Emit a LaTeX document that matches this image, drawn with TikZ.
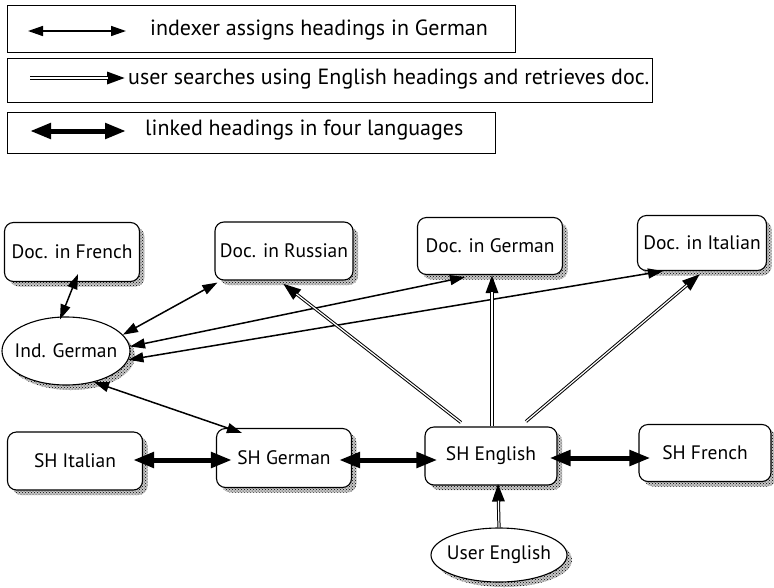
\documentclass[tikz,border=0pt]{standalone}
\usepackage{fontspec}
\setmainfont{PT Sans}
\usetikzlibrary{arrows.meta,patterns,shapes.geometric}

\begin{document}
\begin{tikzpicture}[x=1pt,y=-1pt,
  dotshadow/.style={
    preaction={draw=none,fill=black!22,transform canvas={shift={(5pt,-5pt)}}},
    preaction={draw=none,pattern=crosshatch dots,pattern color=black,
      transform canvas={shift={(5pt,-5pt)}}}},
  docbox/.style={draw,line width=1.1pt,rounded corners=9pt,fill=white,dotshadow,inner sep=0pt,font=\fontsize{19.5}{22}\selectfont},
  ovalbox/.style={draw,ellipse,line width=1.1pt,fill=white,dotshadow,inner ysep=0pt,inner xsep=-9pt,font=\fontsize{19.5}{22}\selectfont},
  legbox/.style={draw,line width=1.2pt,anchor=north west,inner sep=0pt},
  legtext/.style={anchor=west,inner sep=0pt,font=\fontsize{22}{24}\selectfont},
  indexarrow/.style={line width=1.5pt,{Triangle[length=15pt,width=10pt]}-{Triangle[length=15pt,width=10pt]}},
  searcharrow/.style={line width=3.2pt,-{Triangle[length=18pt,width=12pt]},
    postaction={draw=white,line width=1.2pt,-,shorten >=17pt}},
  linkarrow/.style={line width=5pt,{Triangle[length=21pt,width=15pt]}-{Triangle[length=21pt,width=15pt]}}
]
\useasboundingbox (0,0) rectangle (774,587);

% legend
\node[legbox,minimum width=508pt,minimum height=47pt] (leg1) at (7,5) {};
\node[legbox,minimum width=645pt,minimum height=44pt] (leg2) at (7,58) {};
\node[legbox,minimum width=488pt,minimum height=41pt] (leg3) at (7,112) {};
\node[legtext] (leg1t) at (150,30) {indexer assigns headings in German};
\node[legtext] (leg2t) at (128,79) {user searches using English headings and retrieves doc.};
\node[legtext] (leg3t) at (145,130) {linked headings in four languages};
\coordinate (leg1a) at (28,31);  \coordinate (leg1b) at (126,31);
\coordinate (leg2a) at (30,78);  \coordinate (leg2b) at (125,78);
\coordinate (leg3a) at (30,131); \coordinate (leg3b) at (126,131);
\draw[indexarrow] (leg1a) -- (leg1b);
\draw[searcharrow] (leg2a) -- (leg2b);
\draw[linkarrow] (leg3a) -- (leg3b);

% documents
\node[docbox,minimum width=135pt,minimum height=59pt] (frn) at (72,252) {Doc. in French};
\node[docbox,minimum width=138pt,minimum height=58pt] (rus) at (284,251) {Doc. in Russian};
\node[docbox,minimum width=145pt,minimum height=57pt] (ger) at (490,246) {Doc. in German};
\node[docbox,minimum width=129pt,minimum height=55pt] (ita) at (702,243) {Doc. in Italian};

% indexer
\node[ovalbox,minimum width=128pt,minimum height=68pt] (ind) at (66,351) {Ind. German};

% subject headings
\node[docbox,minimum width=135pt,minimum height=58pt] (shi) at (75,461) {SH Italian};
\node[docbox,minimum width=135pt,minimum height=59pt] (shg) at (284,458) {SH German};
\node[docbox,minimum width=132pt,minimum height=58pt] (she) at (491,456) {SH English};
\node[docbox,minimum width=132pt,minimum height=57pt] (shf) at (705,453) {SH French};

% user
\node[ovalbox,minimum width=136pt,minimum height=54pt] (usr) at (499,555) {User English};

% indexing links
\draw[indexarrow] ([xshift=6pt,yshift=8pt]frn.south) -- ([xshift=-6pt,yshift=-3pt]ind.north);
\draw[indexarrow] ([xshift=3pt,yshift=-2pt]rus.south west) -- (ind.16);
\draw[indexarrow] ([xshift=-25pt,yshift=-2pt]ger.south) -- (ind.4);
\draw[indexarrow] ([xshift=-39pt]ita.south) -- (ind.-8);
\draw[indexarrow] (ind.-48) -- ([xshift=-42pt,yshift=-5pt]shg.north);

% searches
\draw[searcharrow] ([xshift=-30pt,yshift=4pt]she.north) -- ([xshift=-1pt,yshift=-3pt]rus.south);
\draw[searcharrow] ([xshift=1pt]she.north) -- ([xshift=2pt]ger.south);
\draw[searcharrow] ([xshift=35pt,yshift=5pt]she.north) -- ([xshift=-2pt,yshift=-3pt]ita.south);
\draw[searcharrow] (usr.north) -- ([xshift=7pt,yshift=2pt]she.south);

% linked headings
\draw[linkarrow] ([xshift=-10pt,yshift=1pt]shi.east) -- ([xshift=16pt,yshift=-2pt]shg.west);
\draw[linkarrow] ([xshift=-13pt,yshift=-2pt]shg.east) -- ([xshift=13pt,yshift=-4pt]she.west);
\draw[linkarrow] ([xshift=-8pt,yshift=-2pt]she.east) -- ([xshift=12pt,yshift=-5pt]shf.west);
\end{tikzpicture}
\end{document}
